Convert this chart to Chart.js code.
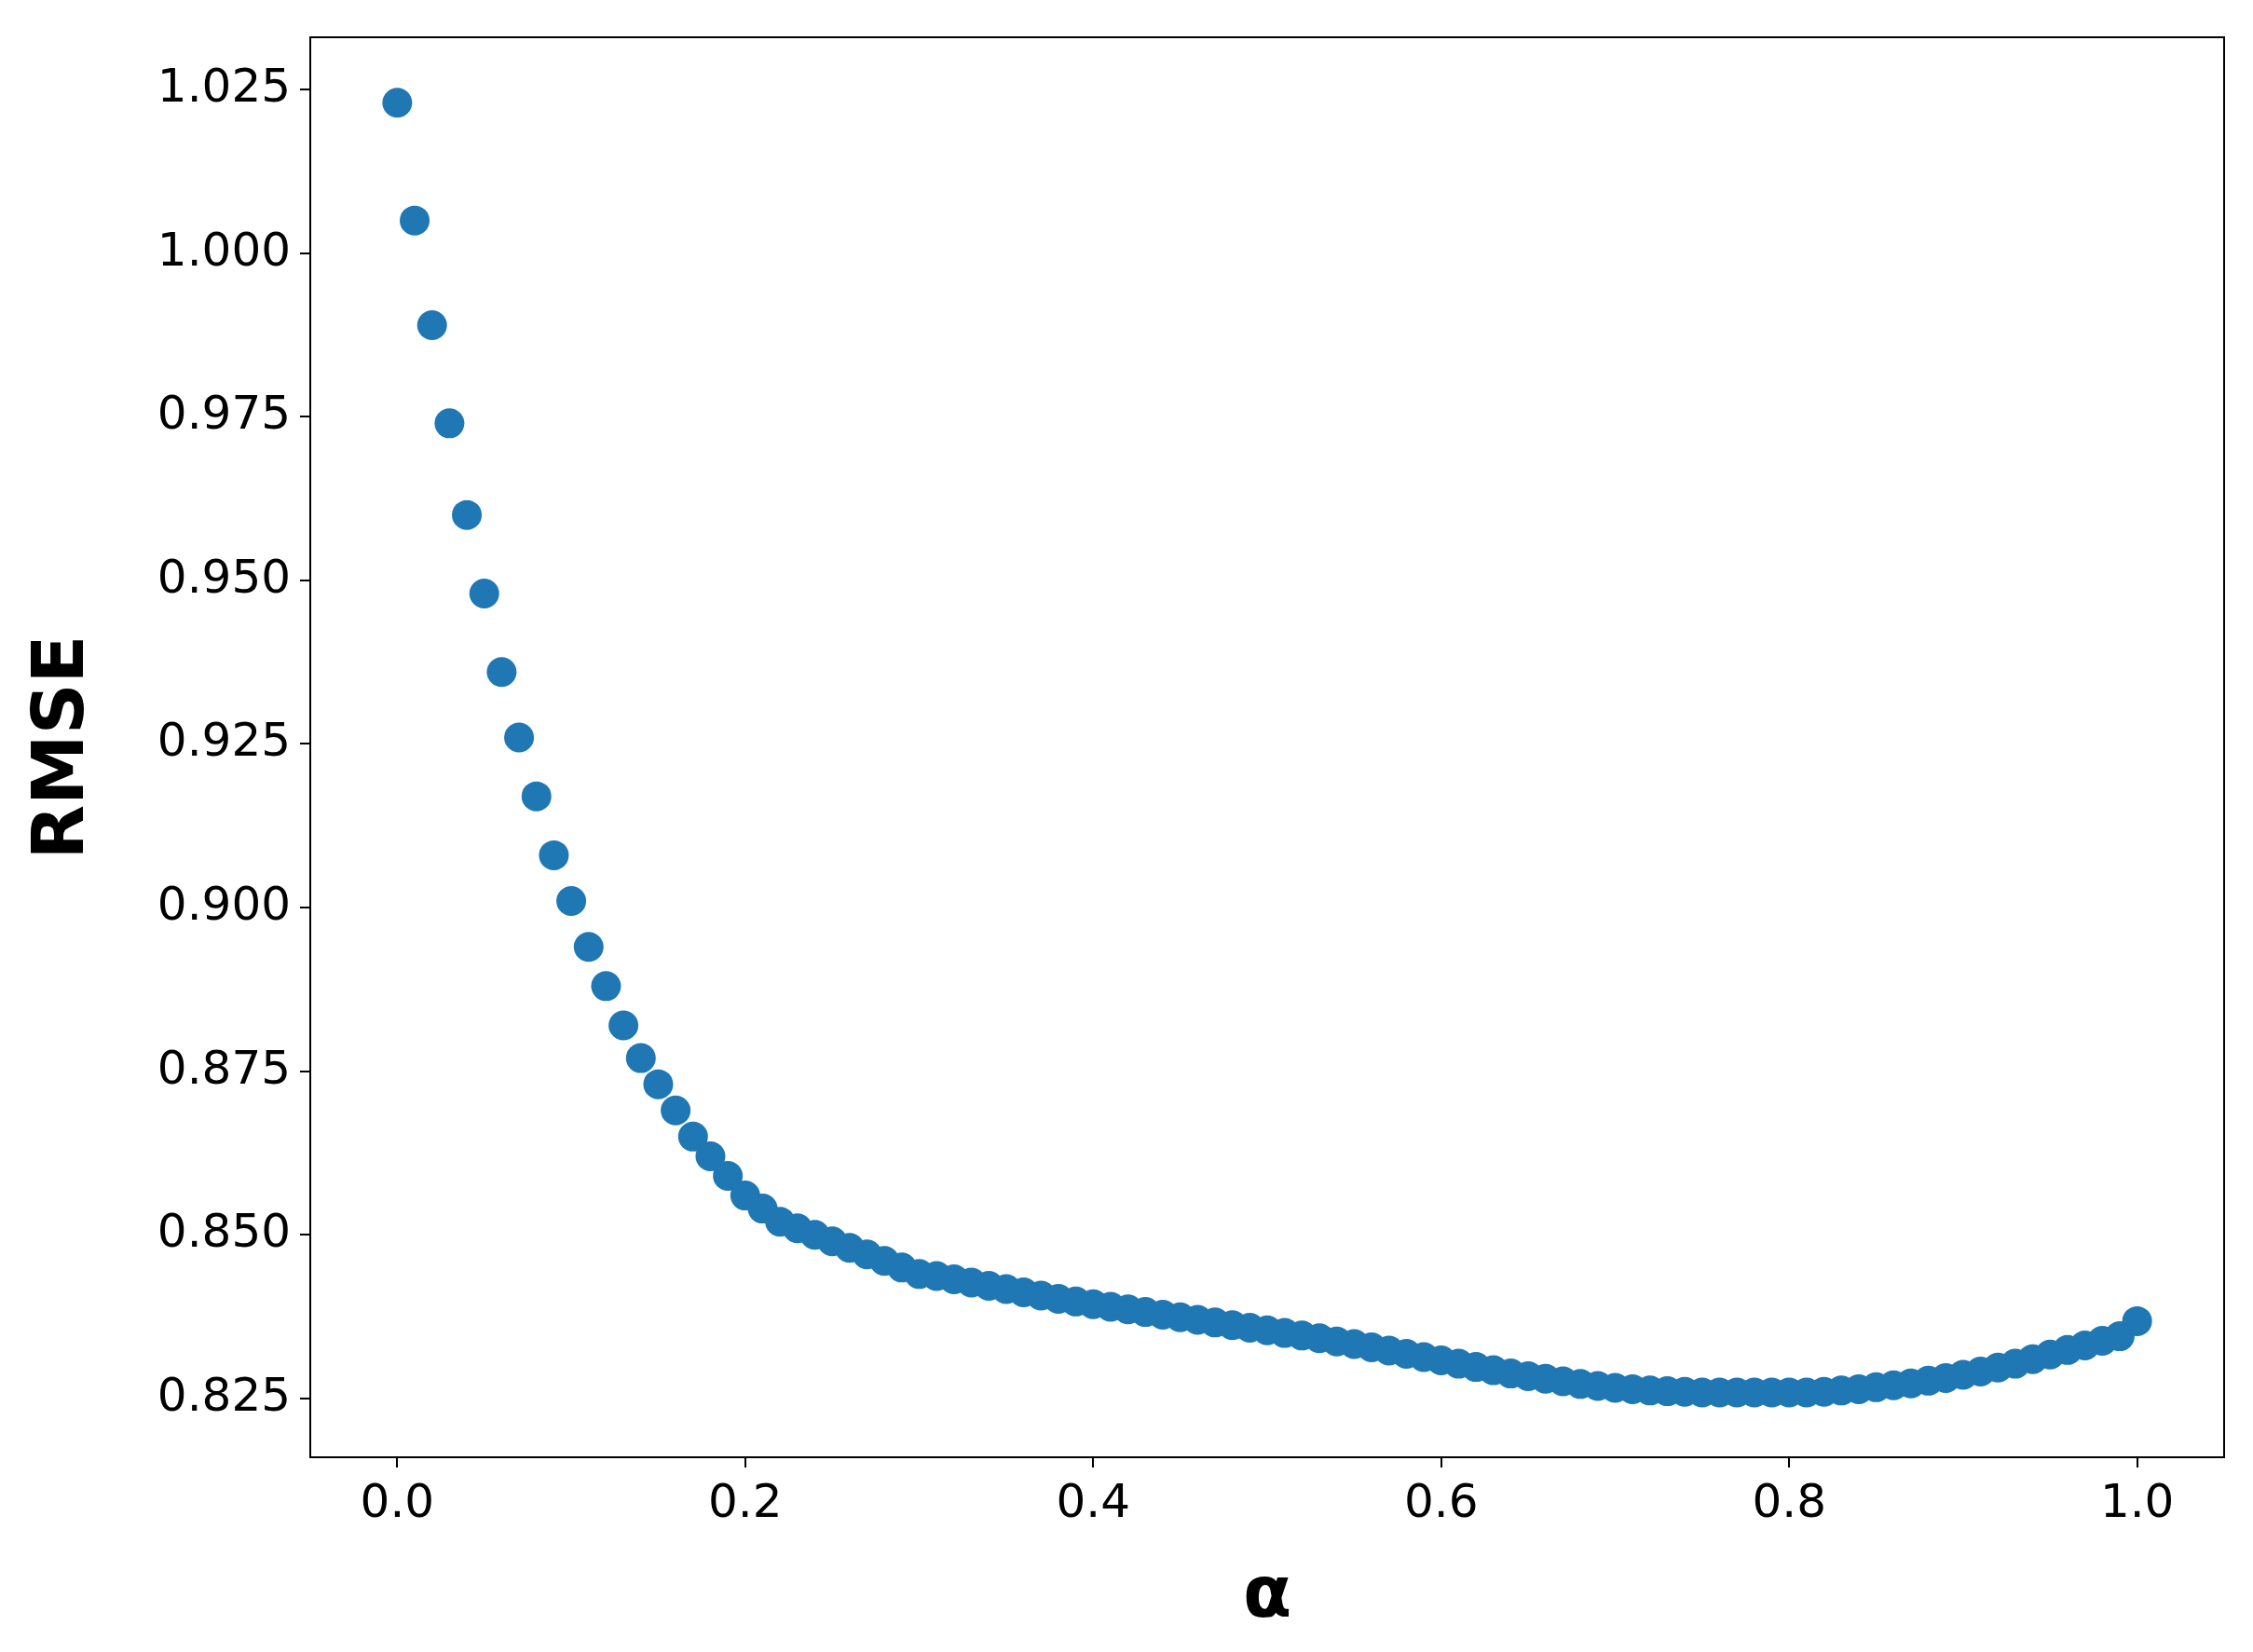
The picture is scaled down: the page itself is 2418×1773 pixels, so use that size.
<!DOCTYPE html>
<html>
<head>
<meta charset="utf-8">
<script src="https://cdn.jsdelivr.net/npm/chart.js@4/dist/chart.umd.min.js"></script>
<style>
  html, body { margin: 0; padding: 0; background: #fff; }
</style>
</head>
<body>
<canvas id="rmseChart" width="2418" height="1773"></canvas>
<script>
// alpha values (x) and RMSE (y)
const alphas = [
    0.00, 0.01, 0.02, 0.03, 0.04, 0.05, 0.06, 0.07, 0.08, 0.09,
    0.10, 0.11, 0.12, 0.13, 0.14, 0.15, 0.16, 0.17, 0.18, 0.19,
    0.20, 0.21, 0.22, 0.23, 0.24, 0.25, 0.26, 0.27, 0.28, 0.29,
    0.30, 0.31, 0.32, 0.33, 0.34, 0.35, 0.36, 0.37, 0.38, 0.39,
    0.40, 0.41, 0.42, 0.43, 0.44, 0.45, 0.46, 0.47, 0.48, 0.49,
    0.50, 0.51, 0.52, 0.53, 0.54, 0.55, 0.56, 0.57, 0.58, 0.59,
    0.60, 0.61, 0.62, 0.63, 0.64, 0.65, 0.66, 0.67, 0.68, 0.69,
    0.70, 0.71, 0.72, 0.73, 0.74, 0.75, 0.76, 0.77, 0.78, 0.79,
    0.80, 0.81, 0.82, 0.83, 0.84, 0.85, 0.86, 0.87, 0.88, 0.89,
    0.90, 0.91, 0.92, 0.93, 0.94, 0.95, 0.96, 0.97, 0.98, 0.99,
    1.00
];
const rmse = [
    1.023, 1.005, 0.989, 0.974, 0.960, 0.948, 0.936, 0.926, 0.917, 0.908,
    0.901, 0.894, 0.888, 0.882, 0.877, 0.873, 0.869, 0.865, 0.862, 0.859,
    0.856, 0.854, 0.852, 0.851, 0.850, 0.849, 0.848, 0.847, 0.846, 0.845,
    0.8440, 0.8437, 0.8432, 0.8427, 0.8422, 0.8417, 0.8412, 0.8407, 0.8402, 0.8398,
    0.8394, 0.8390, 0.8386, 0.8382, 0.8378, 0.8374, 0.8370, 0.8366, 0.8362, 0.8358,
    0.8354, 0.8350, 0.8346, 0.8342, 0.8337, 0.8333, 0.8328, 0.8323, 0.8318, 0.8313,
    0.8308, 0.8303, 0.8298, 0.8293, 0.8288, 0.8284, 0.8280, 0.8276, 0.8272, 0.8269,
    0.8266, 0.8264, 0.8262, 0.8261, 0.8260, 0.8259, 0.8259, 0.8259, 0.8259, 0.8259,
    0.8259, 0.8259, 0.8260, 0.8262, 0.8264, 0.8267, 0.8270, 0.8273, 0.8277, 0.8281,
    0.8286, 0.8291, 0.8297, 0.8303, 0.8310, 0.8317, 0.8324, 0.8331, 0.8338, 0.8345,
    0.8368
];
const xTicks = [0.0, 0.2, 0.4, 0.6, 0.8, 1.0];
const yTicks = [0.825, 0.850, 0.875, 0.900, 0.925, 0.950, 0.975, 1.000, 1.025];

const tickFont = { family: 'DejaVu Sans', size: 50 };
const titleFont = { family: 'DejaVu Sans', size: 76, weight: 'bold' };

// draw the box around the plot area
const frame = {
    id: 'frame',
    afterDraw(chart) {
        const { ctx, chartArea: a } = chart;
        ctx.save();
        ctx.strokeStyle = '#000';
        ctx.lineWidth = 2;
        ctx.strokeRect(a.left, a.top, a.right - a.left, a.bottom - a.top);
        ctx.restore();
    }
};

new Chart(document.getElementById('rmseChart').getContext('2d'), {
    type: 'scatter',
    data: {
        datasets: [{
            data: alphas.map((a, i) => ({ x: a, y: rmse[i] })),
            backgroundColor: '#1f77b4',
            borderColor: '#1f77b4',
            pointRadius: 16,
            borderWidth: 0
        }]
    },
    options: {
        responsive: false,
        animation: false,
        layout: { padding: { top: 34, right: 31, left: 24 } },
        plugins: { legend: { display: false }, tooltip: { enabled: false } },
        scales: {
            x: {
                type: 'linear',
                min: -0.05,
                max: 1.05,
                afterBuildTicks: s => { s.ticks = xTicks.map(v => ({ value: v })); },
                afterFit: s => { s.height = 209; },
                ticks: { font: tickFont, color: '#000', padding: 10, maxRotation: 0,
                    callback: v => v.toFixed(1) },
                grid: { drawOnChartArea: false, drawTicks: true, tickLength: 11, color: '#000', lineWidth: 2 },
                border: { color: '#000', width: 2 },
                title: { display: true, text: 'α', font: titleFont, color: '#000', padding: { top: 0, bottom: 12 } }
            },
            y: {
                min: 0.816,
                max: 1.033,
                afterBuildTicks: s => { s.ticks = yTicks.map(v => ({ value: v })); },
                afterFit: s => { s.width = 309; },
                ticks: { font: tickFont, color: '#000', padding: 10,
                    callback: v => v.toFixed(3) },
                grid: { drawOnChartArea: false, drawTicks: true, tickLength: 11, color: '#000', lineWidth: 2 },
                border: { color: '#000', width: 2 },
                title: { display: true, text: 'RMSE', font: titleFont, color: '#000', padding: { top: 0, bottom: 10 } }
            }
        }
    },
    plugins: [frame]
});
</script>
</body>
</html>
